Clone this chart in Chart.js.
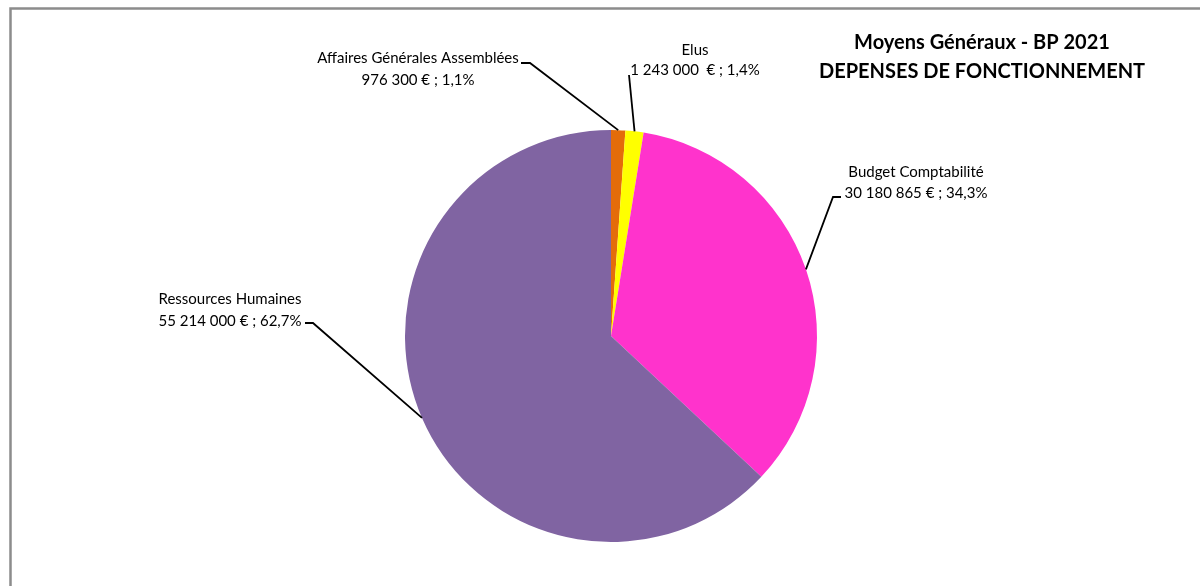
<!DOCTYPE html>
<html>
<head>
<meta charset="utf-8">
<script src="https://cdn.jsdelivr.net/npm/chart.js@4.4.1/dist/chart.umd.min.js"></script>
<style>
  html, body { margin: 0; padding: 0; background: #fff; }
  #wrap { position: relative; width: 1200px; height: 586px; }
</style>
</head>
<body>
<div id="wrap"><canvas id="pieChart" width="1200" height="586"></canvas></div>
<script>
// Data
const categories = ['Affaires Générales Assemblées', 'Elus', 'Budget Comptabilité', 'Ressources Humaines'];
const amounts = [976300, 1243000, 30180865, 55214000];
const amountLabels = ['976 300 € ; 1,1%', '1 243 000  € ; 1,4%', '30 180 865 € ; 34,3%', '55 214 000 € ; 62,7%'];
const sliceColors = ['#E46C0A', '#FFFF00', '#FF33CC', '#8064A2'];
const titleLines = ['Moyens Généraux - BP 2021', 'DEPENSES DE FONCTIONNEMENT'];

const labelFont = '15px Lato';
const titleFont = 'bold 20px Lato';

// where each label sits, and the elbow of its leader line
const labelLayout = [
    { x: 418, y1: 58, y2: 80, elbow: [530, 63], end: [521, 63] },
    { x: 695, y1: 50, y2: 70, elbow: [629, 75], end: null },
    { x: 916, y1: 172, y2: 193, elbow: [833, 197], end: [841, 197] },
    { x: 230, y1: 299, y2: 321, elbow: [313, 323], end: [305, 323] }
];

const calloutPlugin = {
    id: 'callouts',
    beforeDraw(chart) {
        const ctx = chart.ctx;
        ctx.save();
        ctx.fillStyle = '#fff';
        ctx.fillRect(0, 0, chart.width, chart.height);
        // frame of the chart object
        ctx.strokeStyle = '#8c8c8c';
        ctx.lineWidth = 2.5;
        ctx.strokeRect(10.5, 8.5, 1300, 700);
        ctx.restore();
    },
    afterDraw(chart) {
        const ctx = chart.ctx;
        const meta = chart.getDatasetMeta(0);
        ctx.save();
        meta.data.forEach(function (arc, i) {
            const mid = (arc.startAngle + arc.endAngle) / 2;
            const px = arc.x + Math.cos(mid) * arc.outerRadius;
            const py = arc.y + Math.sin(mid) * arc.outerRadius;
            const lay = labelLayout[i];
            ctx.strokeStyle = '#000';
            ctx.lineWidth = 1.8;
            ctx.beginPath();
            ctx.moveTo(px, py);
            ctx.lineTo(lay.elbow[0], lay.elbow[1]);
            if (lay.end) ctx.lineTo(lay.end[0], lay.end[1]);
            ctx.stroke();

            ctx.fillStyle = '#000';
            ctx.font = labelFont;
            ctx.textAlign = 'center';
            ctx.textBaseline = 'middle';
            ctx.fillText(categories[i], lay.x, lay.y1);
            ctx.fillText(amountLabels[i], lay.x, lay.y2);
        });

        ctx.font = titleFont;
        ctx.textAlign = 'center';
        ctx.textBaseline = 'middle';
        ctx.fillText(titleLines[0], 982, 43);
        ctx.fillText(titleLines[1], 982, 72);
        ctx.restore();
    }
};

const pieChart = new Chart(document.getElementById('pieChart').getContext('2d'), {
    type: 'pie',
    data: {
        labels: categories,
        datasets: [{
            data: amounts,
            backgroundColor: sliceColors,
            borderWidth: 0
        }]
    },
    options: {
        responsive: false,
        animation: false,
        layout: {
            padding: { top: 130, bottom: 44, left: 405, right: 383 }
        },
        plugins: {
            legend: { display: false },
            tooltip: { enabled: false },
            title: { display: false }
        }
    },
    plugins: [calloutPlugin]
});
</script>
</body>
</html>
